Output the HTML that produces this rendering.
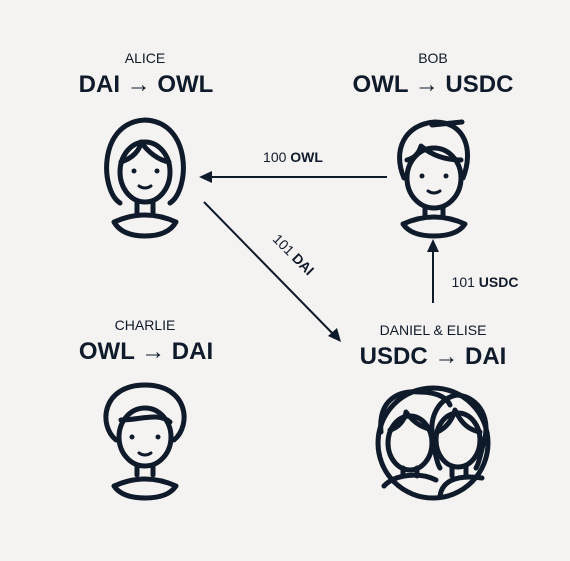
<!DOCTYPE html>
<html><head><style>
html,body{margin:0;padding:0;background:#f4f3f1;}
svg{display:block;font-family:"Liberation Sans",sans-serif;}
</style></head><body>
<svg width="570" height="561" viewBox="0 0 570 561">
<rect width="570" height="561" fill="#f4f3f1"/>
<g fill="#0f1a2a" text-anchor="middle">
<text x="145" y="63" font-size="14">ALICE</text>
<text x="146" y="92" font-size="24" font-weight="bold">DAI → OWL</text>
<text x="433" y="63" font-size="14">BOB</text>
<text x="433" y="92" font-size="24" font-weight="bold">OWL → USDC</text>
<text x="145" y="330" font-size="14">CHARLIE</text>
<text x="146" y="359" font-size="24" font-weight="bold">OWL → DAI</text>
<text x="433" y="335" font-size="14">DANIEL &amp; ELISE</text>
<text x="433" y="364" font-size="24" font-weight="bold">USDC → DAI</text>
<text x="293" y="162" font-size="14">100 <tspan font-weight="bold">OWL</tspan></text>
<text x="485" y="287" font-size="14">101 <tspan font-weight="bold">USDC</tspan></text>
<text x="290" y="258" font-size="14" transform="rotate(45 290 258)">101 <tspan font-weight="bold">DAI</tspan></text>
</g>
<g stroke="#0f1a2a" stroke-width="2" fill="#0f1a2a">
<line x1="387" y1="177" x2="205" y2="177"/>
<polygon points="199,177 212,171 212,183" stroke="none"/>
<line x1="204" y1="202" x2="336" y2="337"/>
<polygon points="341,342 328,336 337,328" stroke="none"/>
<line x1="433" y1="303" x2="433" y2="245"/>
<polygon points="433,239 427,252 439,252" stroke="none"/>
</g>
<g fill="none" stroke="#0f1a2a" stroke-width="5" stroke-linecap="round" stroke-linejoin="round">
<!-- Alice -->
<path d="M120 203 C100 190 98 122 145 120 C192 122 190 190 170 203"/>
<ellipse cx="145" cy="172" rx="25" ry="30"/>
<path d="M121 162 C133 158 140 150 141 142 C148 152 158 160 169 162"/>
<path d="M137 202 V213 M153 202 V213"/>
<path d="M114 222 Q145 208 176 222 Q168 236 145 236 Q122 236 114 222Z"/>
<!-- Bob -->
<path d="M404 178 C392 150 405 124 435 122 C465 122 474 150 463 178"/>
<path d="M432 125 L462 122"/>
<ellipse cx="434" cy="178" rx="27" ry="30"/>
<path d="M407 160 C415 158 419 153 421 146 C435 158 450 160 461 160"/>
<path d="M425 207 V215 M443 207 V215"/>
<path d="M403 224 Q434 210 465 224 Q457 236 434 236 Q411 236 403 224Z"/>
<!-- Charlie -->
<path d="M116 440 C98 425 102 385 145 385 C188 385 192 425 174 440"/>
<ellipse cx="145" cy="437" rx="26" ry="29"/>
<path d="M121 420 C140 420 158 412 170 422"/>
<path d="M137 465 V475 M153 465 V475"/>
<path d="M114 486 Q145 472 176 486 Q168 498 145 498 Q122 498 114 486Z"/>
<!-- Daniel & Elise -->
<circle cx="433" cy="443" r="55"/>
<path d="M381 432 C378 400 398 390 420 392 C440 392 448 400 450 405"/>
<ellipse cx="410" cy="443" rx="22" ry="27"/>
<path d="M390 430 C398 428 405 420 406 412 C415 425 425 428 432 430"/>
<path d="M457 395 C440 398 428 415 433 440 C435 455 438 465 440 468"/>
<path d="M457 395 C480 397 492 420 483 445 C480 458 478 465 476 468"/>
<ellipse cx="458" cy="440" rx="22" ry="27"/>
<path d="M437 432 C447 428 453 418 455 410 C462 425 470 430 480 432"/>
<path d="M403 468 V476 M417 468 V476 M452 466 V476 M466 466 V476"/>
<path d="M384 486 C395 474 420 472 436 480"/>
<path d="M440 496 C442 482 455 474 482 478"/>
</g>
<g fill="#0f1a2a">
<circle cx="134" cy="171" r="2.5"/><circle cx="157" cy="171" r="2.5"/>
<circle cx="422" cy="176" r="2.5"/><circle cx="446" cy="176" r="2.5"/>
<circle cx="132" cy="437" r="2.5"/><circle cx="158" cy="437" r="2.5"/>
</g>
<g fill="none" stroke="#0f1a2a" stroke-width="3" stroke-linecap="round">
<path d="M139 186 Q145 190 151 186"/><path d="M428 191 Q434 195 440 191"/><path d="M139 453 Q145 457 151 453"/>
</g>
</svg>
</body></html>
